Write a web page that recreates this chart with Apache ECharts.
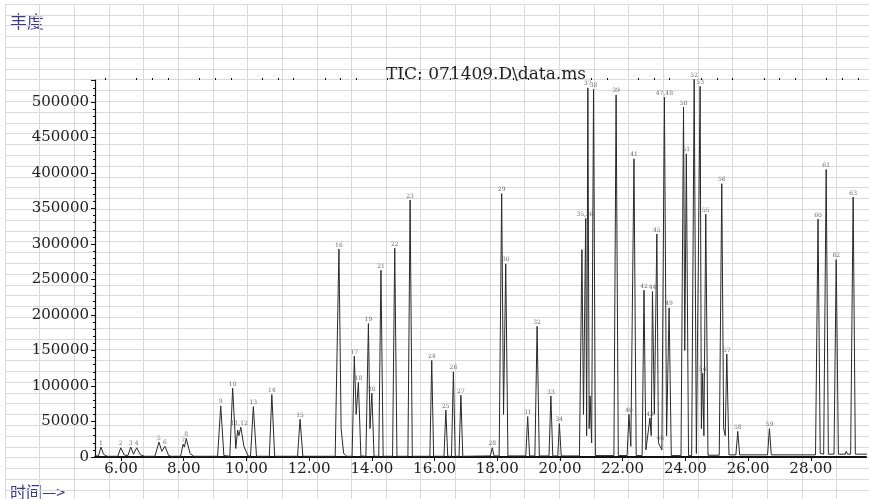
<!DOCTYPE html>
<html>
<head>
<meta charset="utf-8">
<script src="https://cdn.jsdelivr.net/npm/echarts@6/dist/echarts.min.js"></script>
<style>html,body{margin:0;padding:0;background:#fff}#c{width:869px;height:499px}</style>
</head>
<body>
<div id="c"></div>
<script>
// Retention-time tick labels (min) and abundance ticks
const timeTicks = [6, 8, 10, 12, 14, 16, 18, 20, 22, 24, 26, 28];
const timeMinorTicks = [5.5, 6.5, 7, 7.5, 8.5, 9, 9.5, 10.5, 11, 11.5, 12.5, 13, 13.5, 14.5, 15, 15.5, 16.5, 17, 17.5, 18.5, 19, 19.5, 20.5, 21, 21.5, 22.5, 23, 23.5, 24.5, 25, 25.5, 26.5, 27, 27.5, 28.5, 29, 29.5];

// TIC trace: [retention time (min), abundance]
const trace = [
  [5.17, 1500], [5.28, 1500], [5.36, 14000], [5.44, 4000], [5.55, 1000],
  [5.90, 1000], [5.99, 13000], [6.10, 3000], [6.22, 2000], [6.31, 14000], [6.40, 4000], [6.50, 13000], [6.62, 3000], [6.75, 1000],
  [7.08, 1000], [7.21, 21000], [7.30, 8000], [7.40, 15000], [7.52, 2000], [7.60, 1000],
  [7.90, 1000], [7.98, 18000], [8.02, 14000], [8.08, 26000], [8.20, 5000], [8.32, 1000],
  [9.08, 1000], [9.18, 72000], [9.28, 2000],
  [9.47, 1000], [9.56, 97000], [9.62, 48000], [9.66, 12000], [9.72, 38000], [9.76, 30000], [9.82, 42000], [9.92, 15000], [10.05, 1500],
  [10.13, 1000], [10.22, 71000], [10.32, 1000],
  [10.73, 1000], [10.81, 88000], [10.90, 1000],
  [11.63, 1000], [11.71, 53000], [11.80, 1000],
  [12.83, 1000], [12.95, 293000], [13.02, 40000], [13.10, 5000], [13.20, 1000],
  [13.37, 1000], [13.44, 142000], [13.50, 60000], [13.57, 105000], [13.65, 1500],
  [13.81, 1000], [13.89, 188000], [13.94, 40000], [14.00, 90000], [14.07, 1000],
  [14.22, 1000], [14.29, 263000], [14.36, 1000],
  [14.66, 1000], [14.73, 294000], [14.80, 1000],
  [15.15, 1000], [15.22, 362000], [15.29, 1000],
  [15.85, 1000], [15.91, 136000], [15.97, 1000],
  [16.30, 1000], [16.36, 66000], [16.42, 1000],
  [16.54, 1000], [16.60, 120000], [16.66, 1000],
  [16.78, 1000], [16.84, 87000], [16.90, 1000],
  [17.78, 1500], [17.84, 13000], [17.90, 1500],
  [18.06, 1500], [18.14, 371000], [18.20, 60000], [18.27, 272000], [18.34, 1500],
  [18.91, 1500], [18.97, 57000], [19.03, 1500],
  [19.20, 1500], [19.27, 184000], [19.34, 1500],
  [19.65, 1500], [19.71, 86000], [19.77, 1500],
  [19.93, 1500], [19.98, 47000], [20.04, 1500],
  [20.62, 1500], [20.70, 292000], [20.75, 60000], [20.82, 336000], [20.85, 30000], [20.89, 520000], [20.93, 40000], [20.96, 86000], [21.01, 20000], [21.07, 518000], [21.13, 2000],
  [21.72, 2000], [21.79, 510000], [21.86, 2000],
  [22.14, 2000], [22.20, 60000], [22.26, 15000], [22.36, 420000], [22.43, 2000],
  [22.62, 2000], [22.68, 235000], [22.74, 10000], [22.87, 55000], [22.91, 30000], [22.95, 233000], [23.01, 60000], [23.09, 314000], [23.14, 20000], [23.20, 20000], [23.25, 10000], [23.33, 507000], [23.40, 30000], [23.48, 210000], [23.55, 2000],
  [23.86, 2000], [23.94, 493000], [23.98, 150000], [24.03, 427000], [24.10, 2000],
  [24.20, 2000], [24.28, 532000], [24.35, 5000], [24.40, 5000], [24.47, 522000], [24.51, 40000], [24.55, 118000], [24.59, 30000], [24.65, 342000], [24.72, 2500],
  [25.08, 2500], [25.16, 385000], [25.22, 40000], [25.27, 30000], [25.32, 145000], [25.39, 3000],
  [25.61, 3000], [25.67, 36000], [25.73, 3000],
  [26.62, 3000], [26.68, 40000], [26.74, 3000],
  [28.15, 3000], [28.23, 335000], [28.30, 5000], [28.41, 4000], [28.49, 405000], [28.56, 4000],
  [28.74, 4000], [28.81, 278000], [28.88, 4000],
  [29.10, 4000], [29.13, 8000], [29.17, 4000],
  [29.27, 4000], [29.35, 366000], [29.42, 4000], [29.80, 4000]
];

// Peak numbers annotated above the apexes
const peakTime = [5.36, 5.99, 6.31, 6.50, 7.21, 7.40, 7.98, 8.08, 9.18, 9.56, 9.77, 10.22, 10.81, 11.71,
  12.95, 13.44, 13.57, 13.89, 14.00, 14.29, 14.73, 15.22, 15.91, 16.36, 16.60, 16.84, 17.84,
  18.14, 18.27, 18.97, 19.27, 19.71, 19.98, 20.80, 20.89, 21.07, 21.79, 22.20, 22.36, 22.68, 22.87, 22.95,
  23.09, 23.20, 23.33, 23.48, 23.94, 24.03, 24.28, 24.47, 24.55, 24.65, 25.16, 25.32, 25.67, 26.68,
  28.23, 28.49, 28.81, 29.35];
const peakAbundance = [14000, 13000, 14000, 13000, 21000, 15000, 18000, 26000, 72000, 97000, 42000, 71000, 88000, 53000,
  293000, 142000, 105000, 188000, 90000, 263000, 294000, 362000, 136000, 66000, 120000, 87000, 13000,
  371000, 272000, 57000, 184000, 86000, 47000, 336000, 520000, 518000, 510000, 60000, 420000, 235000, 55000, 233000,
  314000, 20000, 507000, 210000, 493000, 427000, 532000, 522000, 118000, 342000, 385000, 145000, 36000, 40000,
  335000, 405000, 278000, 366000];
const peakLabel = ['1', '2', '3', '4', '5', '6', '7', '8', '9', '10', '11,12', '13', '14', '15',
  '16', '17', '18', '19', '20', '21', '22', '23', '24', '25', '26', '27', '28',
  '29', '30', '31', '32', '33', '34', '35,36', '37', '38', '39', '40', '41', '42', '43', '44',
  '45', '46', '47,48', '49', '50', '51', '52', '53', '54', '55', '56', '57', '58', '59',
  '60', '61', '62', '63'];

const labelData = peakTime.map((t, i) => ({ value: [t, peakAbundance[i]], label: { formatter: peakLabel[i] } }));

const chart = echarts.init(document.getElementById('c'), null, { renderer: 'canvas' });
const serif = '"DejaVu Serif", "Liberation Serif", serif';
chart.setOption({
  backgroundColor: '#ffffff',
  animation: false,
  title: {
    text: 'TIC: 071409.D\\data.ms',
    left: 381, top: 61,
    textStyle: { fontFamily: serif, fontSize: 17, fontWeight: 'normal', color: '#222' }
  },
  graphic: [
    { type: 'text', left: 10, top: 13, style: { text: '丰度', font: '17px "Noto Sans CJK SC"', fill: '#3a3a8f' } },
    { type: 'text', left: 10, top: 484, style: { text: '时间—>', font: '16px "Noto Sans CJK SC"', fill: '#3a3a8f' } }
  ],
  grid: [
    { left: 95, right: 3, top: 80, bottom: 42 },
    { left: 5, right: 0, top: 4, bottom: 0, z: 0 }
  ],
  xAxis: [
    {
      type: 'value', gridIndex: 0, min: 5.17, max: 29.76,
      axisLine: { show: true, lineStyle: { color: '#111', width: 2 } },
      axisTick: { show: true, customValues: timeTicks, length: 4, lineStyle: { color: '#111' } },
      axisLabel: { customValues: timeTicks, formatter: v => v.toFixed(2), fontFamily: serif, fontSize: 15, color: '#222', margin: 5 },
      splitLine: { show: false }
    },
    {
      type: 'value', gridIndex: 0, min: 5.17, max: 29.76,
      axisLine: { show: false },
      axisTick: { show: true, customValues: timeMinorTicks, length: 2, lineStyle: { color: '#111' } },
      axisLabel: { show: false },
      splitLine: { show: false }
    },
    {
      type: 'value', gridIndex: 1, min: 0, max: 24.94, interval: 1,
      axisLine: { show: false }, axisTick: { show: false }, axisLabel: { show: false },
      splitLine: { show: true, lineStyle: { color: '#dadada', width: 1 } }
    }
  ],
  yAxis: [
    {
      type: 'value', gridIndex: 0, min: 0, max: 531000, interval: 50000,
      axisLine: { show: true, lineStyle: { color: '#111', width: 1.2 } },
      axisTick: { show: true, length: 4, lineStyle: { color: '#111' } },
      minorTick: { show: true, splitNumber: 5, length: 2, lineStyle: { color: '#111' } },
      axisLabel: { showMaxLabel: false, formatter: v => String(v), fontFamily: serif, fontSize: 15, color: '#222', margin: 6 },
      splitLine: { show: false }
    },
    {
      type: 'value', gridIndex: 1, inverse: true, min: 0, max: 45.83, interval: 1,
      axisLine: { show: false }, axisTick: { show: false }, axisLabel: { show: false },
      splitLine: { show: true, lineStyle: { color: '#dadada', width: 1 } }
    }
  ],
  series: [
    {
      type: 'line', xAxisIndex: 0, yAxisIndex: 0, data: trace,
      showSymbol: false, clip: false, z: 3,
      lineStyle: { color: '#2a2a2a', width: 1 }
    },
    {
      type: 'scatter', xAxisIndex: 0, yAxisIndex: 0, data: labelData,
      symbolSize: 0, clip: false, z: 4,
      label: { show: true, position: 'top', distance: 1, fontSize: 6, fontFamily: serif, color: '#444' }
    }
  ]
});
</script>
</body>
</html>
